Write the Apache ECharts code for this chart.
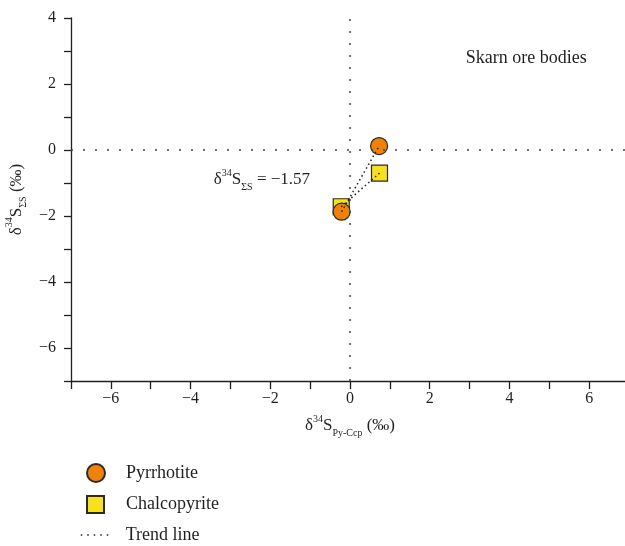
<!DOCTYPE html>
<html>
<head>
<meta charset="utf-8">
<script src="https://cdn.jsdelivr.net/npm/echarts@6/dist/echarts.min.js"></script>
<style>
html,body{margin:0;padding:0;background:#fff;}
#c{width:625px;height:546px;}
</style>
</head>
<body>
<div id="c"></div>
<script>
// Data
const pyrrhotite = [[0.73, 0.12], [-0.21, -1.87]];
const chalcopyrite = [[0.74, -0.70], [-0.22, -1.72]];
const trendA = [[-0.21, -1.87], [0.73, 0.12]];
const trendB = [[-0.22, -1.72], [0.74, -0.70]];
const annotationSum = { pos: [-2.21, -0.91], value: '−1.57' };
const panelLabel = { pos: [4.42, 2.79], text: 'Skarn ore bodies' };
const xRange = [-7, 7];
const yRange = [-7, 4];
const legendNames = ['Pyrrhotite', 'Chalcopyrite', 'Trend line'];

const FONT = '"Liberation Serif", "DejaVu Serif", serif';
const TXT = '#231f20';
const minus = v => String(v).replace('-', '−');
const SQUARE = 'path://M0,0L10,0L10,10L0,10Z';

const chart = echarts.init(document.getElementById('c'));
const sub = { fontSize: 10, fontFamily: FONT, color: TXT, verticalAlign: 'bottom', lineHeight: 24 };
const sup = { fontSize: 10, fontFamily: FONT, color: TXT, verticalAlign: 'top', lineHeight: 24 };
const main = { fontSize: 17, fontFamily: FONT, color: TXT, lineHeight: 24 };
const legendText = pad => ({ fontFamily: FONT, fontSize: 18, color: TXT, padding: [0, 0, 0, pad] });

chart.setOption({
  backgroundColor: '#fff',
  animation: false,
  grid: { left: 71, right: -4, top: 18, bottom: 165, containLabel: false, outerBoundsMode: 'none' },
  xAxis: {
    type: 'value', min: xRange[0], max: xRange[1], interval: 1,
    splitLine: { show: false },
    axisLine: { show: true, onZero: false, lineStyle: { color: TXT, width: 1.3 } },
    axisTick: { show: true, length: 8, lineStyle: { color: TXT, width: 1.3 } },
    axisLabel: { fontFamily: FONT, fontSize: 16, color: TXT, margin: 10,
      formatter: v => (v % 2 === 0 ? minus(v) : '') },
    name: '{a|δ}{sup|34}{a|S}{sub|Py-Ccp}{a| (‰)}',
    nameLocation: 'middle', nameGap: 33,
    nameTextStyle: { rich: { a: main, sup: sup, sub: sub } }
  },
  yAxis: {
    type: 'value', min: yRange[0], max: yRange[1], interval: 1,
    splitLine: { show: false },
    axisLine: { show: true, onZero: false, lineStyle: { color: TXT, width: 1.3 } },
    axisTick: { show: true, length: 7, lineStyle: { color: TXT, width: 1.3 } },
    axisLabel: { fontFamily: FONT, fontSize: 16, color: TXT, margin: 15,
      formatter: v => (v % 2 === 0 ? minus(v) : '') },
    name: '{a|δ}{sup|34}{a|S}{sub|ΣS}{a| (‰)}',
    nameLocation: 'middle', nameGap: 40,
    nameTextStyle: { rich: { a: main, sup: sup, sub: sub } }
  },
  legend: [
    { left: 86, top: 463, padding: 0, itemWidth: 18, itemHeight: 18,
      selectedMode: false, textStyle: legendText(16), data: [legendNames[0]] },
    { left: 86, top: 495, padding: 0, itemWidth: 17, itemHeight: 17,
      selectedMode: false, textStyle: legendText(17), data: [legendNames[1]] },
    { left: 80, top: 526, padding: 0, itemWidth: 30, itemHeight: 17,
      selectedMode: false, textStyle: legendText(10),
      data: [{ name: legendNames[2], itemStyle: { opacity: 0 },
        lineStyle: { color: TXT, type: [1.5, 5], width: 1.5 } }] }
  ],
  series: [
    {
      name: legendNames[0], type: 'scatter', symbol: 'circle', symbolSize: 17, z: 3,
      itemStyle: { color: '#F08209', borderColor: '#2a2a2a', borderWidth: 1.2, opacity: 1 },
      data: pyrrhotite,
      markLine: {
        silent: true, symbol: 'none', label: { show: false },
        lineStyle: { color: '#444', type: [2, 10], width: 1.5 },
        data: [{ xAxis: 0 }, { yAxis: 0 }]
      }
    },
    {
      name: legendNames[1], type: 'scatter', symbol: SQUARE, symbolKeepAspect: true, symbolSize: 16, z: 2,
      itemStyle: { color: '#F7E11E', borderColor: '#2a2a2a', borderWidth: 1.2, opacity: 1 },
      data: chalcopyrite
    },
    {
      name: legendNames[2], type: 'line', symbol: 'none', z: 5, data: trendA,
      lineStyle: { color: TXT, type: [1.5, 3], width: 1.5 },
      itemStyle: { color: TXT }
    },
    {
      name: legendNames[2], type: 'line', symbol: 'none', z: 5, data: trendB,
      lineStyle: { color: TXT, type: [1.5, 3], width: 1.5 },
      itemStyle: { color: TXT }
    },
    {
      type: 'scatter', symbolSize: 0, silent: true, z: 6,
      itemStyle: { opacity: 1 },
      data: [annotationSum.pos],
      label: {
        show: true, position: 'inside',
        formatter: '{a|δ}{sup|34}{a|S}{sub|ΣS}{a| = ' + annotationSum.value + '}',
        rich: { a: main, sup: sup, sub: sub }
      }
    },
    {
      type: 'scatter', symbolSize: 0, silent: true, z: 6,
      itemStyle: { opacity: 1 },
      data: [panelLabel.pos],
      label: { show: true, position: 'inside', formatter: panelLabel.text,
        fontFamily: FONT, fontSize: 18, color: TXT }
    }
  ]
});
</script>
</body>
</html>
